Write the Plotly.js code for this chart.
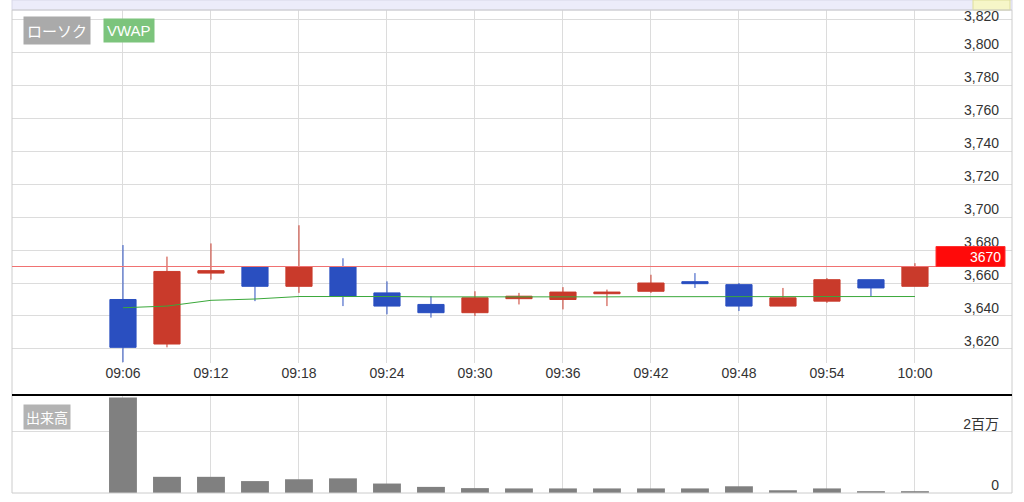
<!DOCTYPE html>
<html>
<head>
<meta charset="utf-8">
<script src="https://cdn.plot.ly/plotly-3.0.1.min.js"></script>
<style>
html,body{margin:0;padding:0;background:#fff;}
#chart{width:1024px;height:502px;}
</style>
</head>
<body>
<div id="chart"></div>
<script>
// ---- data ----
const day = "2024-01-01 ";
const times = ["09:06","09:09","09:12","09:15","09:18","09:21","09:24","09:27","09:30","09:33",
               "09:36","09:39","09:42","09:45","09:48","09:51","09:54","09:57","10:00"];
const openP  = [3650, 3623, 3666, 3670, 3658, 3670, 3654, 3647, 3642, 3650.5, 3650, 3653.5, 3655, 3660.8, 3659, 3646, 3649, 3662, 3658];
const highP  = [3683, 3676, 3684, 3670, 3695, 3675, 3661, 3652, 3655, 3654, 3657.5, 3656, 3665, 3666, 3660, 3657, 3663, 3662, 3672];
const lowP   = [3612, 3621, 3662, 3649, 3654, 3646, 3641, 3639, 3640, 3647, 3644, 3646, 3654, 3657, 3643, 3646, 3648, 3652, 3658];
const closeP = [3621, 3667, 3667.5, 3658, 3670, 3652, 3646, 3642, 3651, 3652, 3654.5, 3654.5, 3660, 3659.6, 3646, 3651, 3662, 3657, 3670];
const vwap   = [3645, 3646, 3649.5, 3650.3, 3651.8, 3652, 3651.8, 3651.6, 3651.5, 3651.5, 3651.6, 3651.6, 3651.7, 3651.7, 3651.6, 3651.6, 3651.7, 3651.7, 3651.8];
const volume = [3130000, 530000, 530000, 390000, 450000, 480000, 310000, 200000, 160000, 150000,
                150000, 150000, 150000, 150000, 220000, 90000, 150000, 60000, 60000];
const xTickLabels = ["09:06","09:12","09:18","09:24","09:30","09:36","09:42","09:48","09:54","10:00"];
const priceTicks = [3620, 3640, 3660, 3680, 3700, 3720, 3740, 3760, 3780, 3800, 3820];
const priceTickText = ["3,620","3,640","3,660","3,680","3,700","3,720","3,740","3,760","3,780","3,800","3,820"];
const volTicks = [0, 2000000];
const volTickText = ["0", "2百万"];
const legendNames = ["ローソク", "VWAP"];
const volumeName = "出来高";

// ---- build ----
const xs = times.map(t => day + t);
const xTickVals = xTickLabels.map(t => day + t);
const lastPrice = closeP[closeP.length - 1];
const nP = priceTicks.length;

const RED = "#c93a2b", BLUE = "#2a4fc0";
const FONT = "Liberation Sans, Arial, Noto Sans CJK JP, sans-serif";
const PRANGE = [3611.5, 3825.5];

const traces = [
  {
    type: "candlestick", x: xs, open: openP, high: highP, low: lowP, close: closeP,
    xaxis: "x", yaxis: "y",
    increasing: {line: {color: RED, width: 1}, fillcolor: RED},
    decreasing: {line: {color: BLUE, width: 1}, fillcolor: BLUE},
    whiskerwidth: 0, hoverinfo: "skip"
  },
  {
    type: "scatter", mode: "lines", x: xs, y: vwap, xaxis: "x", yaxis: "y",
    line: {color: "#3aa83a", width: 1}, hoverinfo: "skip"
  },
  {
    type: "bar", x: xs, y: volume, xaxis: "x2", yaxis: "y2",
    marker: {color: "#808080", line: {width: 0}}, width: 114000, hoverinfo: "skip"
  },
  // invisible helper so the top-tick axis is drawn
  {
    type: "scatter", mode: "lines", x: [xs[0]], y: [priceTicks[nP - 1]], xaxis: "x", yaxis: "y3",
    line: {width: 0}, opacity: 0, hoverinfo: "skip"
  }
];

const PH = 483; // plot height px
const pyPx = px => (493 - px) / PH;   // pixel y -> paper y
const pxX = px => (px - 12) / 1000;   // pixel x -> paper x

const grid = "#dcdcdc";
const tf = {size: 14, color: "#333333"};
const layout = {
  width: 1024, height: 502,
  margin: {l: 12, r: 12, t: 10, b: 9, pad: 0},
  paper_bgcolor: "#ffffff", plot_bgcolor: "#ffffff",
  showlegend: false,
  boxgap: 0.15,
  font: {family: FONT, size: 14, color: "#333333"},
  xaxis: {
    type: "date", domain: [0, 1], anchor: "y",
    range: [day + "08:58:26", day + "10:06:37"],
    tickmode: "array", tickvals: xTickVals, ticktext: xTickLabels,
    showgrid: true, gridcolor: grid, gridwidth: 1, zeroline: false, showline: false,
    ticks: "", tickfont: tf,
    rangeslider: {visible: false}, fixedrange: true
  },
  xaxis2: {
    type: "date", domain: [0, 1], anchor: "y2", matches: "x",
    tickmode: "array", tickvals: xTickVals, showticklabels: false,
    showgrid: true, gridcolor: grid, gridwidth: 1, zeroline: false, showline: false,
    rangeslider: {visible: false}
  },
  yaxis: {
    domain: [pyPx(363), 1], range: PRANGE, side: "right", anchor: "x",
    tickmode: "array", tickvals: priceTicks, ticktext: priceTickText.slice(0, nP - 1).concat([""]),
    ticklabelposition: "inside", ticklabelshift: -8, ticklabelstandoff: 10,
    showgrid: true, gridcolor: grid, zeroline: false, showline: false,
    tickfont: tf
  },
  yaxis3: {
    domain: [pyPx(363), 1], range: PRANGE, side: "right", anchor: "x", overlaying: "y",
    tickmode: "array", tickvals: [priceTicks[nP - 1]], ticktext: [priceTickText[nP - 1]],
    ticklabelposition: "inside", ticklabelshift: -3, ticklabelstandoff: 10, ticklabeloverflow: "allow",
    showgrid: false, zeroline: false, showline: false,
    tickfont: tf
  },
  yaxis2: {
    domain: [0, pyPx(395)], range: [0, 3210000], side: "right", anchor: "x2",
    tickmode: "array", tickvals: volTicks, ticktext: volTickText,
    ticklabelposition: "inside", ticklabelshift: -8, ticklabelstandoff: 10,
    showgrid: true, gridcolor: grid, zeroline: false, showline: false,
    tickfont: tf
  },
  shapes: [
    // header band
    {type: "rect", xref: "paper", yref: "paper", x0: 0, x1: 1, y0: 1, y1: 1 + 10 / PH,
     fillcolor: "#ececfa", line: {color: "#d8d8e8", width: 1}, layer: "above"},
    {type: "rect", xref: "paper", yref: "paper", x0: pxX(973), x1: pxX(1010), y0: 1, y1: 1 + 10 / PH,
     fillcolor: "#f6f6c8", line: {color: "#dede9c", width: 1}, layer: "above"},
    // outer border
    {type: "rect", xref: "paper", yref: "paper", x0: 0, x1: 1, y0: 0, y1: 1,
     line: {color: "#cccccc", width: 1}, layer: "above"},
    // separator between panels
    {type: "line", xref: "paper", yref: "paper", x0: 0, x1: 1, y0: pyPx(395), y1: pyPx(395),
     line: {color: "#000000", width: 2}, layer: "above"},
    // last price line
    {type: "line", xref: "paper", yref: "y", x0: 0, x1: pxX(936), y0: lastPrice, y1: lastPrice,
     line: {color: "#f07272", width: 1}, layer: "above"},
    // last price box
    {type: "rect", xref: "paper", yref: "y", x0: pxX(936), x1: pxX(1005), y0: lastPrice, y1: lastPrice + 20 / 1.65,
     fillcolor: "#ff0a0a", line: {color: "#ff3030", width: 1}, layer: "above"}
  ],
  annotations: [
    {xref: "paper", yref: "y", x: pxX(1003), y: lastPrice + 10 / 1.65, xanchor: "right", yanchor: "middle",
     text: String(lastPrice), showarrow: false, font: {size: 14, color: "#ffffff"}},
    {xref: "paper", yref: "paper", x: pxX(23), y: pyPx(31), xanchor: "left", yanchor: "middle",
     text: legendNames[0], showarrow: false, bgcolor: "#aaaaaa", borderpad: 3,
     font: {size: 15, color: "#ffffff", family: "Noto Sans CJK JP, sans-serif"}},
    {xref: "paper", yref: "paper", x: pxX(103), y: pyPx(31), xanchor: "left", yanchor: "middle",
     text: legendNames[1], showarrow: false, bgcolor: "#7cc47c", borderpad: 3,
     font: {size: 15, color: "#ffffff"}},
    {xref: "paper", yref: "paper", x: pxX(23), y: pyPx(417), xanchor: "left", yanchor: "middle",
     text: volumeName, showarrow: false, bgcolor: "#b3b3b3", borderpad: 2,
     font: {size: 14, color: "#ffffff", family: "Noto Sans CJK JP, sans-serif"}}
  ]
};

Plotly.newPlot("chart", traces, layout, {displayModeBar: false, staticPlot: true});
</script>
</body>
</html>
